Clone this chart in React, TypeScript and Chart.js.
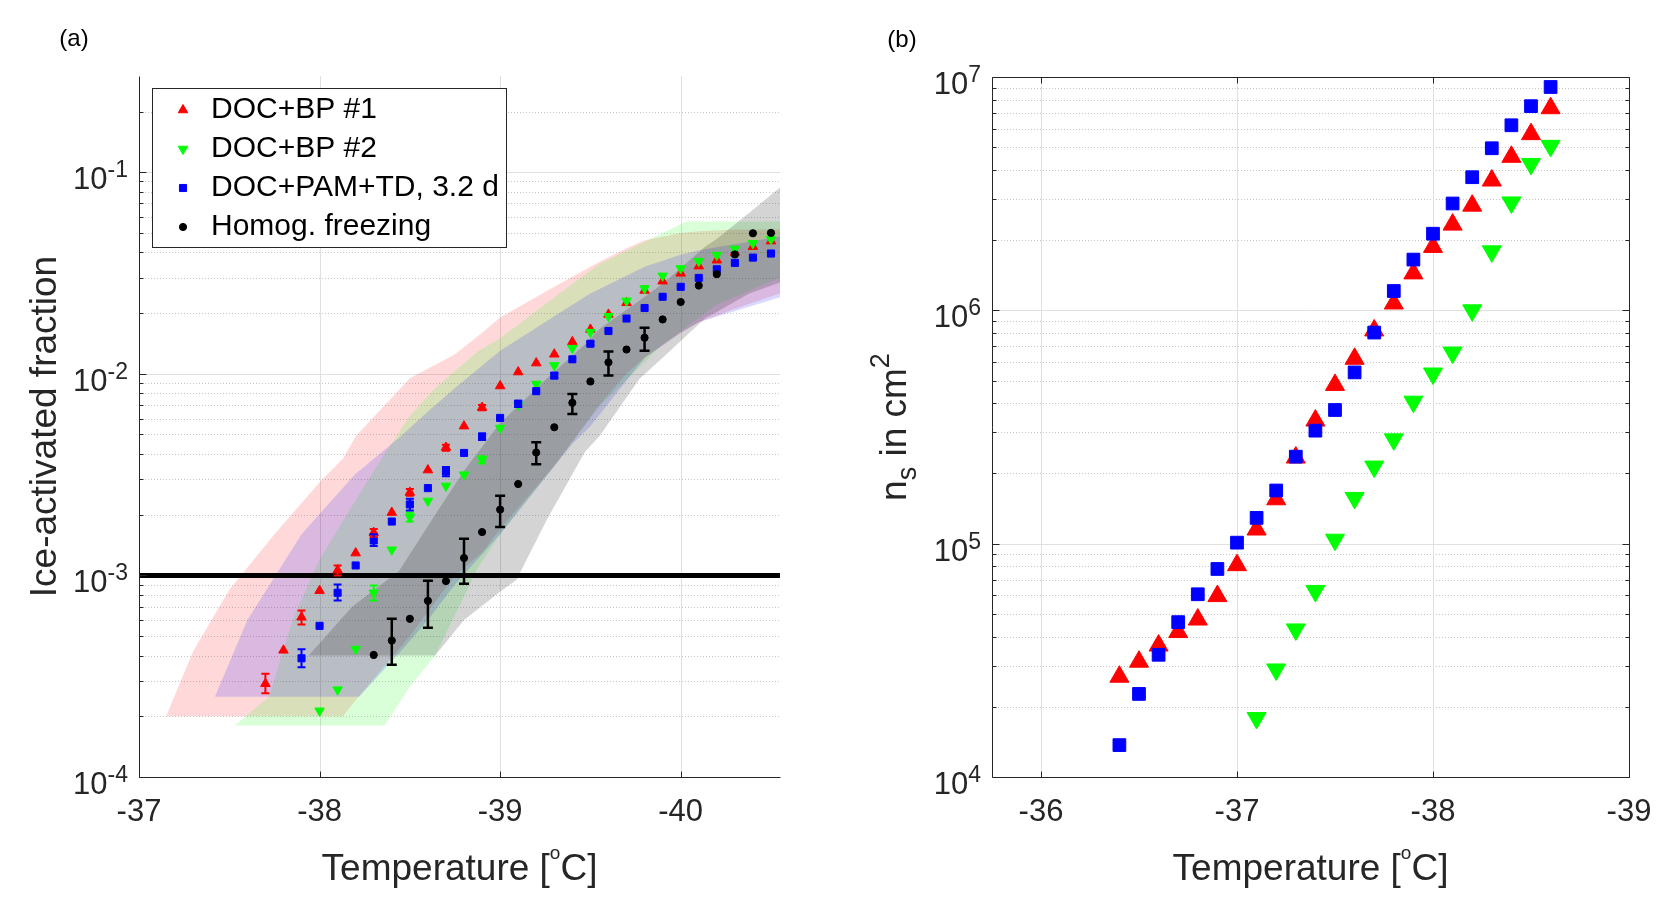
import { useEffect, useRef } from 'react';
import { Chart, registerables } from 'chart.js';
import type { ChartConfiguration, Plugin } from 'chart.js';

Chart.register(...registerables);

// ============= PANEL (a): ice-activated fraction =============
const T_BP1 = [-37.7, -37.8, -37.9, -38.0, -38.1, -38.2, -38.3, -38.4, -38.5, -38.6, -38.7, -38.8, -38.9, -39.0, -39.1, -39.2, -39.3, -39.4, -39.5, -39.6, -39.7, -39.8, -39.9, -40.0, -40.1, -40.2, -40.3, -40.4, -40.5];
const FRAC_BP1 = [2.9e-4, 4.25e-4, 6.2e-4, 8.4e-4, 1.06e-3, 1.29e-3, 1.63e-3, 2.05e-3, 2.58e-3, 3.33e-3, 4.31e-3, 5.5e-3, 6.8e-3, 8.7e-3, 1.02e-2, 1.13e-2, 1.25e-2, 1.44e-2, 1.66e-2, 1.97e-2, 2.25e-2, 2.59e-2, 2.88e-2, 3.15e-2, 3.42e-2, 3.66e-2, 4.0e-2, 4.27e-2, 4.55e-2];

const T_BP2 = [-38.0, -38.1, -38.2, -38.3, -38.4, -38.5, -38.6, -38.7, -38.8, -38.9, -39.0, -39.1, -39.2, -39.3, -39.4, -39.5, -39.6, -39.7, -39.8, -39.9, -40.0, -40.1, -40.2, -40.3, -40.4, -40.5];
const FRAC_BP2 = [2.13e-4, 2.71e-4, 4.31e-4, 8.2e-4, 1.34e-3, 1.95e-3, 2.34e-3, 2.78e-3, 3.16e-3, 3.75e-3, 5.38e-3, 7.0e-3, 8.9e-3, 1.1e-2, 1.34e-2, 1.61e-2, 1.93e-2, 2.3e-2, 2.65e-2, 3.06e-2, 3.33e-2, 3.62e-2, 3.88e-2, 4.16e-2, 4.44e-2, 4.65e-2];

const T_PAM = [-37.9, -38.0, -38.1, -38.2, -38.3, -38.4, -38.5, -38.6, -38.7, -38.8, -38.9, -39.0, -39.1, -39.2, -39.3, -39.4, -39.5, -39.6, -39.7, -39.8, -39.9, -40.0, -40.1, -40.2, -40.3, -40.4, -40.5];
const FRAC_PAM = [3.88e-4, 5.62e-4, 8.2e-4, 1.12e-3, 1.49e-3, 1.85e-3, 2.25e-3, 2.71e-3, 3.28e-3, 4.05e-3, 4.88e-3, 6.04e-3, 7.1e-3, 8.2e-3, 9.8e-3, 1.18e-2, 1.41e-2, 1.63e-2, 1.88e-2, 2.12e-2, 2.41e-2, 2.7e-2, 2.99e-2, 3.3e-2, 3.55e-2, 3.77e-2, 3.95e-2];

const T_HOM = [-38.3, -38.4, -38.5, -38.6, -38.7, -38.8, -38.9, -39.0, -39.1, -39.2, -39.3, -39.4, -39.5, -39.6, -39.7, -39.8, -39.9, -40.0, -40.1, -40.2, -40.3, -40.4, -40.5];
const FRAC_HOM = [4.03e-4, 4.75e-4, 6.09e-4, 7.48e-4, 9.37e-4, 1.22e-3, 1.64e-3, 2.12e-3, 2.84e-3, 4.07e-3, 5.43e-3, 7.18e-3, 9.16e-3, 1.14e-2, 1.32e-2, 1.51e-2, 1.86e-2, 2.27e-2, 2.74e-2, 3.12e-2, 3.91e-2, 4.98e-2, 5.0e-2];

// error bars (lower / upper ends)
const ERR_BP1_T = [-37.7, -37.9, -38.1, -38.3, -38.5, -38.7, -38.9];
const ERR_BP1_LO = [2.6e-4, 5.7e-4, 1.0e-3, 1.55e-3, 2.48e-3, 4.15e-3, 6.6e-3];
const ERR_BP1_HI = [3.25e-4, 6.7e-4, 1.12e-3, 1.7e-3, 2.68e-3, 4.45e-3, 7.0e-3];
const ERR_BP2_T = [-38.3, -38.5, -38.9];
const ERR_BP2_LO = [7.5e-4, 1.85e-3, 3.6e-3];
const ERR_BP2_HI = [8.9e-4, 2.05e-3, 3.9e-3];
const ERR_PAM_T = [-37.9, -38.1, -38.3, -38.5, -38.7, -38.9, -39.1, -39.3, -39.5];
const ERR_PAM_LO = [3.5e-4, 7.5e-4, 1.4e-3, 2.1e-3, 3.1e-3, 4.7e-3, 6.85e-3, 9.5e-3, 1.38e-2];
const ERR_PAM_HI = [4.3e-4, 9.0e-4, 1.6e-3, 2.4e-3, 3.45e-3, 5.05e-3, 7.35e-3, 1.01e-2, 1.44e-2];
const ERR_HOM_T = [-38.4, -38.6, -38.8, -39.0, -39.2, -39.4, -39.6, -39.8];
const ERR_HOM_LO = [3.6e-4, 5.5e-4, 9.1e-4, 1.74e-3, 3.56e-3, 6.32e-3, 9.8e-3, 1.3e-2];
const ERR_HOM_HI = [6.1e-4, 9.4e-4, 1.52e-3, 2.48e-3, 4.57e-3, 7.94e-3, 1.29e-2, 1.69e-2];

// shaded ranges (upper / lower envelope)
const BAND_BP1_T = [-37.15, -37.3, -37.5, -37.75, -38.0, -38.13, -38.2, -38.5, -38.75, -38.9, -39.0, -39.3, -39.55, -39.7, -39.8, -40.0, -40.1, -40.3, -40.55];
const BAND_BP1_HI = [2e-4, 4.2e-4, 8.5e-4, 1.6e-3, 2.9e-3, 3.8e-3, 4.9e-3, 9.5e-3, 1.25e-2, 1.6e-2, 1.9e-2, 2.7e-2, 3.6e-2, 4.2e-2, 4.6e-2, 5.0e-2, 5.1e-2, 5.2e-2, 5.2e-2];
const BAND_BP1_LO = [2e-4, 2e-4, 2e-4, 2e-4, 2e-4, 2e-4, 2.4e-4, 5e-4, 1.0e-3, 1.3e-3, 1.7e-3, 3.5e-3, 7e-3, 1.0e-2, 1.2e-2, 1.6e-2, 1.8e-2, 2.1e-2, 2.5e-2];

const BAND_BP2_T = [-37.53, -37.72, -37.85, -38.0, -38.25, -38.36, -38.5, -38.64, -38.88, -39.0, -39.3, -39.55, -39.9, -40.03, -40.2, -40.55];
const BAND_BP2_HI = [1.8e-4, 2.5e-4, 6e-4, 1.2e-3, 2.8e-3, 4.0e-3, 6.2e-3, 8.5e-3, 1.3e-2, 1.5e-2, 2.4e-2, 3.5e-2, 5.0e-2, 5.7e-2, 5.7e-2, 5.7e-2];
const BAND_BP2_LO = [1.8e-4, 1.8e-4, 1.8e-4, 1.8e-4, 1.8e-4, 1.8e-4, 2.8e-4, 4e-4, 1.1e-3, 1.6e-3, 3.5e-3, 6.9e-3, 1.4e-2, 1.7e-2, 2.2e-2, 3.0e-2];

const BAND_PAM_T = [-37.42, -37.6, -37.9, -38.2, -38.22, -38.45, -38.6, -38.75, -39.0, -39.4, -39.5, -39.8, -40.0, -40.1, -40.55];
const BAND_PAM_HI = [2.5e-4, 6e-4, 1.6e-3, 3.2e-3, 3.3e-3, 4.9e-3, 6.5e-3, 8.5e-3, 1.3e-2, 2.2e-2, 2.5e-2, 3.4e-2, 3.9e-2, 4.1e-2, 4.8e-2];
const BAND_PAM_LO = [2.5e-4, 2.5e-4, 2.5e-4, 2.5e-4, 2.5e-4, 4.2e-4, 6e-4, 9e-4, 1.6e-3, 4.5e-3, 5.5e-3, 1.2e-2, 1.6e-2, 1.8e-2, 2.4e-2];

const BAND_HOM_T = [-37.94, -38.18, -38.44, -38.64, -38.8, -39.0, -39.09, -39.26, -39.47, -39.55, -39.77, -39.9, -40.14, -40.19, -40.38, -40.55];
const BAND_HOM_HI = [4e-4, 7e-4, 1.05e-3, 2.0e-3, 3.3e-3, 5.7e-3, 6.8e-3, 9.5e-3, 1.4e-2, 1.67e-2, 2.3e-2, 2.8e-2, 4.3e-2, 4.6e-2, 6.3e-2, 8.4e-2];
const BAND_HOM_LO = [4e-4, 4e-4, 4e-4, 4e-4, 6e-4, 8.3e-4, 9.5e-4, 1.9e-3, 4.1e-3, 4.9e-3, 9.4e-3, 1.2e-2, 1.9e-2, 2.0e-2, 2.5e-2, 2.84e-2];

const THRESHOLD = 1e-3;
const A_X_MIN = -40.55;
const A_X_MAX = -37;
const A_Y_MIN = 1e-4;
const A_Y_MAX = 0.3;
const A_X_TICKS = [-37, -38, -39, -40];
const A_Y_EXPS = [-4, -3, -2, -1];

// ============= PANEL (b): n_s =============
const T_B_BP1 = [-36.4, -36.5, -36.6, -36.7, -36.8, -36.9, -37.0, -37.1, -37.2, -37.3, -37.4, -37.5, -37.6, -37.7, -37.8, -37.9, -38.0, -38.1, -38.2, -38.3, -38.4, -38.5, -38.6];
const NS_BP1 = [2.69e4, 3.12e4, 3.66e4, 4.18e4, 4.73e4, 5.96e4, 8.09e4, 1.15e5, 1.55e5, 2.34e5, 3.37e5, 4.79e5, 6.2e5, 8.2e5, 1.07e6, 1.44e6, 1.87e6, 2.33e6, 2.81e6, 3.6e6, 4.55e6, 5.69e6, 7.35e6];
const T_B_BP2 = [-37.1, -37.2, -37.3, -37.4, -37.5, -37.6, -37.7, -37.8, -37.9, -38.0, -38.1, -38.2, -38.3, -38.4, -38.5, -38.6];
const NS_BP2 = [1.79e4, 2.89e4, 4.29e4, 6.27e4, 1.04e5, 1.57e5, 2.14e5, 2.8e5, 4.06e5, 5.36e5, 6.59e5, 1.0e6, 1.79e6, 2.9e6, 4.24e6, 5.07e6];
const T_B_PAM = [-36.4, -36.5, -36.6, -36.7, -36.8, -36.9, -37.0, -37.1, -37.2, -37.3, -37.4, -37.5, -37.6, -37.7, -37.8, -37.9, -38.0, -38.1, -38.2, -38.3, -38.4, -38.5, -38.6];
const NS_PAM = [1.37e4, 2.27e4, 3.34e4, 4.61e4, 6.07e4, 7.79e4, 1.01e5, 1.29e5, 1.69e5, 2.36e5, 3.05e5, 3.74e5, 5.42e5, 8.03e5, 1.21e6, 1.65e6, 2.13e6, 2.87e6, 3.72e6, 4.95e6, 6.21e6, 7.5e6, 9.06e6];

const B_X_MIN = -39;
const B_X_MAX = -35.75;
const B_Y_MIN = 1e4;
const B_Y_MAX = 1e7;
const B_X_TICKS = [-36, -37, -38, -39];
const B_Y_EXPS = [4, 5, 6, 7];

const LEGEND_LABELS = ['DOC+BP #1', 'DOC+BP #2', 'DOC+PAM+TD, 3.2 d', 'Homog. freezing'];

// ============= STYLE =============
const FONT = '"Liberation Sans", Arial, Helvetica, sans-serif';
const INK = '#262626';
const RED = '#ff0000';
const GREEN = '#00ff00';
const BLUE = '#0000ff';
const BLACK = '#000000';

type Run = { text: string; size: number; rise?: number };
type ErrSet = { t: number[]; lo: number[]; hi: number[]; color: string; width: number; cap: number };
type Marker = { style: string; rotation: number; radius: number; color: string };
type Decor = {
    xTicks: number[];
    yExps: number[];
    box: boolean;
    xTitle: Run[];
    yTitle: Run[];
    yTitleX: number;
    panel: string;
    panelX: number;
    panelY: number;
    errors: ErrSet[];
    legend: { label: string; marker: Marker }[];
};

const snap = (p: number) => Math.round(p) + 0.5;

function setFont(ctx: CanvasRenderingContext2D, size: number) {
    ctx.font = `${size}px ${FONT}`;
}

function runsWidth(ctx: CanvasRenderingContext2D, runs: Run[]) {
    let w = 0;
    for (const r of runs) {
        setFont(ctx, r.size);
        w += ctx.measureText(r.text).width;
    }
    return w;
}

function drawRuns(ctx: CanvasRenderingContext2D, runs: Run[], x: number, y: number) {
    let cx = x;
    for (const r of runs) {
        setFont(ctx, r.size);
        ctx.fillText(r.text, cx, y - (r.rise ?? 0));
        cx += ctx.measureText(r.text).width;
    }
}

// same geometry as chart.js point styles
function drawMarker(ctx: CanvasRenderingContext2D, m: Marker, x: number, y: number) {
    ctx.save();
    ctx.fillStyle = m.color;
    ctx.strokeStyle = m.color;
    ctx.lineWidth = 1;
    ctx.beginPath();
    if (m.style === 'triangle') {
        let rad = (m.rotation * Math.PI) / 180;
        for (let i = 0; i < 3; i++) {
            const px = x + Math.sin(rad) * m.radius;
            const py = y - Math.cos(rad) * m.radius;
            if (i === 0) ctx.moveTo(px, py);
            else ctx.lineTo(px, py);
            rad += (2 * Math.PI) / 3;
        }
        ctx.closePath();
    } else if (m.style === 'rect') {
        const s = Math.SQRT1_2 * m.radius;
        ctx.rect(x - s, y - s, 2 * s, 2 * s);
    } else {
        ctx.arc(x, y, m.radius, 0, Math.PI * 2);
    }
    ctx.fill();
    ctx.stroke();
    ctx.restore();
}

function minorValues(min: number, max: number) {
    const out: number[] = [];
    for (let e = Math.floor(Math.log10(min)); e <= Math.ceil(Math.log10(max)); e++) {
        for (let k = 2; k <= 9; k++) {
            const v = k * Math.pow(10, e);
            if (v > min * 1.0001 && v < max * 0.9999) out.push(v);
        }
    }
    return out;
}

function makeDecor(d: Decor): Plugin<'line'> {
    return {
        id: 'decor',
        beforeDatasetsDraw(chart) {
            const { ctx, chartArea: a } = chart;
            const x = chart.scales.x;
            const y = chart.scales.y;
            ctx.save();
            ctx.lineWidth = 1;
            // minor grid, dotted
            ctx.strokeStyle = '#c6c6c6';
            ctx.setLineDash([1, 2]);
            for (const v of minorValues(y.min, y.max)) {
                const py = snap(y.getPixelForValue(v));
                ctx.beginPath();
                ctx.moveTo(a.left, py);
                ctx.lineTo(a.right, py);
                ctx.stroke();
            }
            // major grid, solid
            ctx.setLineDash([]);
            ctx.strokeStyle = '#e0e0e0';
            for (const e of d.yExps) {
                const v = Math.pow(10, e);
                if (v <= y.min * 1.0001 || v >= y.max * 0.9999) continue;
                const py = snap(y.getPixelForValue(v));
                ctx.beginPath();
                ctx.moveTo(a.left, py);
                ctx.lineTo(a.right, py);
                ctx.stroke();
            }
            for (const t of d.xTicks) {
                const px = x.getPixelForValue(t);
                if (px <= a.left + 1 || px >= a.right - 1) continue;
                ctx.beginPath();
                ctx.moveTo(snap(px), a.top);
                ctx.lineTo(snap(px), a.bottom);
                ctx.stroke();
            }
            ctx.restore();
        },
        afterDatasetsDraw(chart) {
            const { ctx, chartArea: a } = chart;
            const x = chart.scales.x;
            const y = chart.scales.y;
            ctx.save();
            ctx.beginPath();
            ctx.rect(a.left, a.top, a.width, a.height);
            ctx.clip();
            for (const s of d.errors) {
                ctx.strokeStyle = s.color;
                ctx.lineWidth = s.width;
                s.t.forEach((t, i) => {
                    const px = x.getPixelForValue(t);
                    const y1 = y.getPixelForValue(s.lo[i]);
                    const y2 = y.getPixelForValue(s.hi[i]);
                    ctx.beginPath();
                    ctx.moveTo(px, y1);
                    ctx.lineTo(px, y2);
                    ctx.moveTo(px - s.cap, y1);
                    ctx.lineTo(px + s.cap, y1);
                    ctx.moveTo(px - s.cap, y2);
                    ctx.lineTo(px + s.cap, y2);
                    ctx.stroke();
                });
            }
            ctx.restore();

            // axes + inward ticks
            ctx.save();
            ctx.strokeStyle = INK;
            ctx.lineWidth = 1;
            const L = snap(a.left);
            const R = snap(a.right);
            const T = snap(a.top);
            const B = snap(a.bottom);
            ctx.beginPath();
            ctx.moveTo(L, T);
            ctx.lineTo(L, B);
            ctx.lineTo(R, B);
            if (d.box) {
                ctx.lineTo(R, T);
                ctx.lineTo(L, T);
            }
            ctx.stroke();
            ctx.beginPath();
            const yTick = (v: number, len: number) => {
                const py = snap(y.getPixelForValue(v));
                ctx.moveTo(L, py);
                ctx.lineTo(L + len, py);
                if (d.box) {
                    ctx.moveTo(R, py);
                    ctx.lineTo(R - len, py);
                }
            };
            for (const v of minorValues(y.min, y.max)) yTick(v, 4);
            for (const e of d.yExps) yTick(Math.pow(10, e), 7);
            for (const t of d.xTicks) {
                const px = snap(x.getPixelForValue(t));
                ctx.moveTo(px, B);
                ctx.lineTo(px, B - 6);
                if (d.box) {
                    ctx.moveTo(px, T);
                    ctx.lineTo(px, T + 6);
                }
            }
            ctx.stroke();
            ctx.restore();
        },
        afterDraw(chart) {
            const { ctx, chartArea: a } = chart;
            const x = chart.scales.x;
            const y = chart.scales.y;
            ctx.save();
            ctx.fillStyle = INK;
            ctx.textBaseline = 'alphabetic';

            // x tick labels
            ctx.textAlign = 'center';
            setFont(ctx, 31);
            for (const t of d.xTicks) {
                ctx.fillText(String(t), x.getPixelForValue(t), a.bottom + 44);
            }

            // y tick labels 10^n
            ctx.textAlign = 'left';
            for (const e of d.yExps) {
                const py = y.getPixelForValue(Math.pow(10, e));
                const runs: Run[] = [{ text: '10', size: 31 }, { text: String(e), size: 23, rise: 12 }];
                const w = runsWidth(ctx, runs);
                drawRuns(ctx, runs, a.left - 11 - w, py + 17);
            }

            // axis titles
            const xw = runsWidth(ctx, d.xTitle);
            drawRuns(ctx, d.xTitle, (a.left + a.right) / 2 - xw / 2, a.bottom + 103);
            ctx.save();
            ctx.translate(d.yTitleX, (a.top + a.bottom) / 2);
            ctx.rotate(-Math.PI / 2);
            const yw = runsWidth(ctx, d.yTitle);
            drawRuns(ctx, d.yTitle, -yw / 2, 0);
            ctx.restore();

            // panel letter
            ctx.fillStyle = '#000';
            ctx.textAlign = 'center';
            ctx.textBaseline = 'middle';
            setFont(ctx, 24);
            ctx.fillText(d.panel, d.panelX, d.panelY);

            // legend box
            if (d.legend.length) {
                ctx.fillStyle = '#ffffff';
                ctx.fillRect(152, 88, 354, 159);
                ctx.strokeStyle = INK;
                ctx.lineWidth = 1;
                ctx.strokeRect(152.5, 88.5, 354, 159);
                ctx.textAlign = 'left';
                setFont(ctx, 30);
                d.legend.forEach((row, i) => {
                    const ry = 110 + i * 39;
                    drawMarker(ctx, row.marker, 183, ry);
                    ctx.fillStyle = '#000';
                    ctx.fillText(row.label, 211, ry);
                });
            }
            ctx.restore();
        },
    };
}

const pts = (t: number[], v: number[]) => t.map((x, i) => ({ x, y: v[i] }));

function markerSet(t: number[], v: number[], m: Marker, order: number) {
    return {
        data: pts(t, v),
        showLine: false,
        pointStyle: m.style,
        pointRotation: m.rotation,
        pointRadius: m.radius,
        pointHoverRadius: m.radius,
        pointBackgroundColor: m.color,
        pointBorderColor: m.color,
        pointBorderWidth: 1,
        backgroundColor: m.color,
        borderColor: m.color,
        order,
    };
}

function bandSets(t: number[], hi: number[], lo: number[], color: string, order: number) {
    const common = {
        borderColor: 'rgba(0,0,0,0)',
        borderWidth: 0,
        pointRadius: 0,
        pointHoverRadius: 0,
        tension: 0,
        order,
    };
    return [
        { ...common, data: pts(t, hi), fill: '+1', backgroundColor: color },
        { ...common, data: pts(t, lo), fill: false },
    ];
}

const MK_A = {
    bp1: { style: 'triangle', rotation: 0, radius: 5.5, color: RED },
    bp2: { style: 'triangle', rotation: 180, radius: 5.5, color: GREEN },
    pam: { style: 'rect', rotation: 0, radius: 5, color: BLUE },
    hom: { style: 'circle', rotation: 0, radius: 3.6, color: BLACK },
};
const MK_B = {
    bp1: { style: 'triangle', rotation: 0, radius: 11, color: RED },
    bp2: { style: 'triangle', rotation: 180, radius: 11, color: GREEN },
    pam: { style: 'rect', rotation: 0, radius: 9, color: BLUE },
};

const TEMP_TITLE: Run[] = [
    { text: 'Temperature [', size: 37 },
    { text: 'o', size: 19, rise: 21 },
    { text: 'C]', size: 37 },
];

function baseOptions(pad: { left: number; right: number; top: number; bottom: number }, xr: number[], yr: number[]) {
    return {
        responsive: false,
        animation: false as const,
        events: [],
        layout: { padding: pad },
        scales: {
            x: { type: 'linear' as const, min: xr[0], max: xr[1], reverse: true, display: false },
            y: { type: 'logarithmic' as const, min: yr[0], max: yr[1], display: false },
        },
        plugins: { legend: { display: false }, tooltip: { enabled: false } },
    };
}

function buildConfigA(): ChartConfiguration<'line'> {
    return {
        type: 'line',
        data: {
            datasets: [
                markerSet(T_BP1, FRAC_BP1, MK_A.bp1, 4),
                markerSet(T_BP2, FRAC_BP2, MK_A.bp2, 3),
                markerSet(T_PAM, FRAC_PAM, MK_A.pam, 2),
                markerSet(T_HOM, FRAC_HOM, MK_A.hom, 1),
                {
                    data: [{ x: A_X_MAX, y: THRESHOLD }, { x: A_X_MIN, y: THRESHOLD }],
                    borderColor: '#000',
                    borderWidth: 5,
                    pointRadius: 0,
                    fill: false,
                    order: 5,
                },
                ...bandSets(BAND_BP1_T, BAND_BP1_HI, BAND_BP1_LO, 'rgba(255,0,0,0.15)', 13),
                ...bandSets(BAND_BP2_T, BAND_BP2_HI, BAND_BP2_LO, 'rgba(0,255,0,0.15)', 12),
                ...bandSets(BAND_PAM_T, BAND_PAM_HI, BAND_PAM_LO, 'rgba(0,0,255,0.15)', 11),
                ...bandSets(BAND_HOM_T, BAND_HOM_HI, BAND_HOM_LO, 'rgba(0,0,0,0.17)', 10),
            ] as any,
        },
        options: baseOptions({ left: 139, right: 54, top: 76, bottom: 129 }, [A_X_MIN, A_X_MAX], [A_Y_MIN, A_Y_MAX]) as any,
        plugins: [
            makeDecor({
                xTicks: A_X_TICKS,
                yExps: A_Y_EXPS,
                box: false,
                xTitle: TEMP_TITLE,
                yTitle: [{ text: 'Ice-activated fraction', size: 37 }],
                yTitleX: 56,
                panel: '(a)',
                panelX: 74,
                panelY: 39,
                errors: [
                    { t: ERR_BP1_T, lo: ERR_BP1_LO, hi: ERR_BP1_HI, color: RED, width: 2, cap: 4 },
                    { t: ERR_BP2_T, lo: ERR_BP2_LO, hi: ERR_BP2_HI, color: GREEN, width: 2, cap: 4 },
                    { t: ERR_PAM_T, lo: ERR_PAM_LO, hi: ERR_PAM_HI, color: BLUE, width: 2, cap: 4 },
                    { t: ERR_HOM_T, lo: ERR_HOM_LO, hi: ERR_HOM_HI, color: BLACK, width: 2.5, cap: 5 },
                ],
                legend: [
                    { label: LEGEND_LABELS[0], marker: MK_A.bp1 },
                    { label: LEGEND_LABELS[1], marker: MK_A.bp2 },
                    { label: LEGEND_LABELS[2], marker: MK_A.pam },
                    { label: LEGEND_LABELS[3], marker: MK_A.hom },
                ],
            }),
        ],
    };
}

function buildConfigB(): ChartConfiguration<'line'> {
    return {
        type: 'line',
        data: {
            datasets: [
                markerSet(T_B_BP1, NS_BP1, MK_B.bp1, 3),
                markerSet(T_B_BP2, NS_BP2, MK_B.bp2, 2),
                markerSet(T_B_PAM, NS_PAM, MK_B.pam, 1),
            ] as any,
        },
        options: baseOptions({ left: 158, right: 39, top: 77, bottom: 129 }, [B_X_MIN, B_X_MAX], [B_Y_MIN, B_Y_MAX]) as any,
        plugins: [
            makeDecor({
                xTicks: B_X_TICKS,
                yExps: B_Y_EXPS,
                box: true,
                xTitle: TEMP_TITLE,
                yTitle: [
                    { text: 'n', size: 37 },
                    { text: 's', size: 27, rise: -10 },
                    { text: ' in cm', size: 37 },
                    { text: '2', size: 27, rise: 17 },
                ],
                yTitleX: 72,
                panel: '(b)',
                panelX: 68,
                panelY: 40,
                errors: [],
                legend: [],
            }),
        ],
    };
}

// ============= CHART COMPONENT =============
const ChartCanvas = ({ build, left }: { build: () => ChartConfiguration<'line'>; left: number }) => {
    const canvasRef = useRef<HTMLCanvasElement>(null);

    useEffect(() => {
        if (!canvasRef.current) return;
        const chart = new Chart(canvasRef.current, build());
        return () => {
            chart.destroy();
        };
    }, [build]);

    return (
        <canvas
            ref={canvasRef}
            width={834}
            height={906}
            style={{ position: 'absolute', left, top: 0, width: 834, height: 906 }}
        />
    );
};

export default function App() {
    return (
        <div style={{ position: 'absolute', left: 0, top: 0, width: 1668, height: 906, background: '#ffffff' }}>
            <ChartCanvas build={buildConfigA} left={0} />
            <ChartCanvas build={buildConfigB} left={834} />
        </div>
    );
}
